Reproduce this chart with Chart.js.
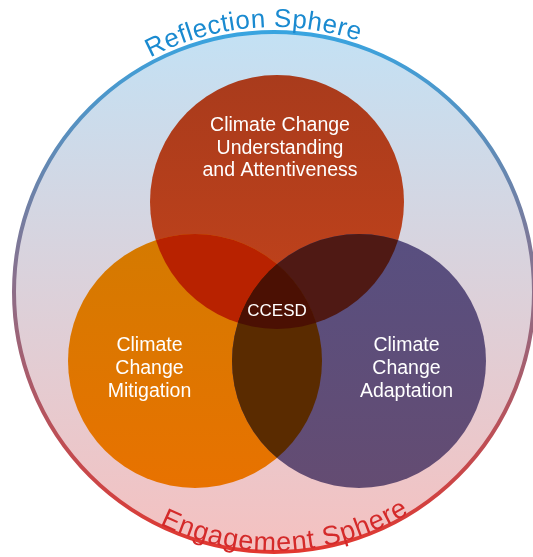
<!DOCTYPE html>
<html>
<head>
<meta charset="utf-8">
<script src="https://cdn.jsdelivr.net/npm/chart.js@4.4.1/dist/chart.umd.min.js"></script>
<style>
  html, body { margin: 0; padding: 0; background: #fff; }
  canvas { display: block; }
</style>
</head>
<body>
<canvas id="venn" width="533" height="557"></canvas>
<script>
// the three circles
const circleLabels = [
    ['Climate Change', 'Understanding', 'and Attentiveness'],
    ['Climate', 'Change', 'Mitigation'],
    ['Climate', 'Change', 'Adaptation']
];
const circleX = [277, 195, 359];
const circleY = [202, 361, 361];
const circleR = [127, 127, 127];

// the outer sphere
const sphereX = [274];
const sphereY = [292];
const sphereR = [260];
const sphereTop = 'Reflection Sphere';
const sphereBottom = 'Engagement Sphere';
const centerLabel = 'CCESD';

const FONT = '"Liberation Sans", Arial, sans-serif';

const circleColors = [
    ['#a93b1c', '#c3431b'],
    ['#d47a00', '#e87200'],
    ['#584f80', '#644c72']
];
// overlaps: [i, j, color] and the middle
const pairColors = [[0, 1, '#b82200'], [0, 2, '#4f1914'], [1, 2, '#5a2b00']];
const middleColor = '#4b1003';

function vGrad(ctx, y0, y1, c0, c1) {
    if (!isFinite(y0) || !isFinite(y1)) return c0;
    const g = ctx.createLinearGradient(0, y0, 0, y1);
    g.addColorStop(0, c0);
    g.addColorStop(1, c1);
    return g;
}

function circlePath(ctx, el, r) {
    ctx.beginPath();
    ctx.arc(el.x, el.y, r, 0, Math.PI * 2);
}

// text on an arc, outside=true reads clockwise over the top
function arcText(ctx, text, cx, cy, r, mid, outside, spacing) {
    const widths = [...text].map(ch => ctx.measureText(ch).width);
    const total = widths.reduce((a, b) => a + b, 0) + spacing * (widths.length - 1);
    let acc = 0;
    [...text].forEach((ch, i) => {
        const w = widths[i];
        const off = (acc + w / 2 - total / 2) / r;
        const a = outside ? mid + off : mid - off;
        ctx.save();
        ctx.translate(cx + r * Math.cos(a), cy + r * Math.sin(a));
        ctx.rotate(outside ? a + Math.PI / 2 : a - Math.PI / 2);
        ctx.fillText(ch, 0, 0);
        ctx.restore();
        acc += w + spacing;
    });
}

const vennPlugin = {
    id: 'vennExtras',
    afterDatasetsDraw(chart) {
        const ctx = chart.ctx;
        const circles = chart.getDatasetMeta(0).data;
        const sphere = chart.getDatasetMeta(1).data[0];

        // overlaps
        pairColors.forEach(([i, j, col]) => {
            ctx.save();
            circlePath(ctx, circles[i], circleR[i]);
            ctx.clip();
            circlePath(ctx, circles[j], circleR[j]);
            ctx.fillStyle = col;
            ctx.fill();
            ctx.restore();
        });
        ctx.save();
        circlePath(ctx, circles[0], circleR[0]);
        ctx.clip();
        circlePath(ctx, circles[1], circleR[1]);
        ctx.clip();
        circlePath(ctx, circles[2], circleR[2]);
        ctx.fillStyle = middleColor;
        ctx.fill();
        ctx.restore();

        // circle labels
        const labelPos = [[3, -71, 22.5], [-45.5, -10, 23], [47.5, -10, 23]];
        ctx.save();
        ctx.fillStyle = '#ffffff';
        ctx.textAlign = 'center';
        ctx.textBaseline = 'alphabetic';
        ctx.font = '19.5px ' + FONT;
        circleLabels.forEach((lines, i) => {
            const [dx, dy, lh] = labelPos[i];
            lines.forEach((t, k) => {
                ctx.fillText(t, circles[i].x + dx, circles[i].y + dy + k * lh);
            });
        });
        ctx.font = '17px ' + FONT;
        ctx.fillText(centerLabel, 277, 316);
        ctx.restore();

        // sphere captions
        ctx.save();
        ctx.textAlign = 'center';
        ctx.textBaseline = 'alphabetic';
        ctx.font = '26px ' + FONT;
        ctx.fillStyle = '#1a8ad0';
        arcText(ctx, sphereTop, sphere.x, sphere.y, sphereR[0] + 5, -Math.PI / 2 - 0.08, true, 0.5);
        ctx.font = '27px ' + FONT;
        ctx.fillStyle = '#d42a2a';
        arcText(ctx, sphereBottom, sphere.x, sphere.y, sphereR[0] - 1, Math.PI / 2 - 0.045, false, 0.8);
        ctx.restore();
    }
};

const chart = new Chart(document.getElementById('venn').getContext('2d'), {
    type: 'bubble',
    data: {
        datasets: [{
            label: 'Circles',
            data: circleX.map((x, i) => ({ x: x, y: circleY[i], r: circleR[i] })),
            borderWidth: 0,
            backgroundColor: function (c) {
                const i = c.dataIndex;
                if (i === undefined || !c.chart.scales.y) return circleColors[0][0];
                const y = c.chart.scales.y.getPixelForValue(circleY[i]);
                return vGrad(c.chart.ctx, y - circleR[i], y + circleR[i], circleColors[i][0], circleColors[i][1]);
            }
        }, {
            label: 'Sphere',
            data: sphereX.map((x, i) => ({ x: x, y: sphereY[i], r: sphereR[i] })),
            borderWidth: 4,
            backgroundColor: function (c) {
                if (!c.chart.scales.y) return '#e0d8e0';
                const y = c.chart.scales.y.getPixelForValue(sphereY[0]);
                return vGrad(c.chart.ctx, y - sphereR[0], y + sphereR[0], '#c3e1f4', '#f5c1c0');
            },
            borderColor: function (c) {
                if (!c.chart.scales.y) return '#a08898';
                const y = c.chart.scales.y.getPixelForValue(sphereY[0]);
                return vGrad(c.chart.ctx, y - sphereR[0], y + sphereR[0], '#38a4e0', '#e2372f');
            }
        }]
    },
    options: {
        responsive: false,
        animation: false,
        events: [],
        clip: false,
        layout: { padding: 0, autoPadding: false },
        plugins: { legend: { display: false }, tooltip: { enabled: false } },
        scales: {
            x: { type: 'linear', min: 0, max: 533, display: false },
            y: { type: 'linear', min: 0, max: 557, reverse: true, display: false }
        }
    },
    plugins: [vennPlugin]
});
</script>
</body>
</html>
